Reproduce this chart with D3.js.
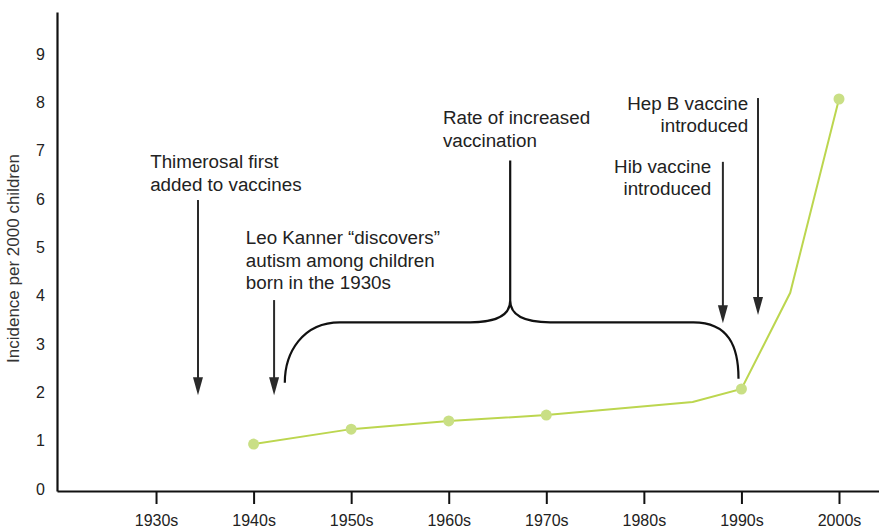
<!DOCTYPE html>
<html>
<head>
<meta charset="utf-8">
<script src="https://cdn.jsdelivr.net/npm/d3@7"></script>
<style>
  html, body { margin: 0; padding: 0; background: #fff; }
  svg { display: block; font-family: "Liberation Sans", Arial, Helvetica, sans-serif; }
</style>
</head>
<body>
<svg id="chart" width="879" height="529"></svg>
<script>
// ---- data ----
const decades = [1930, 1940, 1950, 1960, 1970, 1980, 1990, 2000];
const tickLabels = ["1930s", "1940s", "1950s", "1960s", "1970s", "1980s", "1990s", "2000s"];
const yTicks = [0, 1, 2, 3, 4, 5, 6, 7, 8, 9];
const lineYears = [1940, 1950, 1960, 1970, 1985, 1990, 1995, 2000];
const lineValues = [0.93, 1.24, 1.41, 1.53, 1.80, 2.07, 4.06, 8.07];
const markerYears = [1940, 1950, 1960, 1970, 1990, 2000];
const markerValues = [0.93, 1.24, 1.41, 1.53, 2.07, 8.07];
const yTitle = "Incidence per 2000 children";

// annotations in data units (year, value)
const arrowYears = [1934.3, 1942.1, 1988.1, 1991.7];
const arrowTops = [5.98, 3.91, 6.77, 8.09];
const arrowTips = [1.94, 1.94, 3.43, 3.60];
const noteLines = [
  ["Thimerosal first", "added to vaccines"],
  ["Leo Kanner \u201cdiscovers\u201d", "autism among children", "born in the 1930s"],
  ["Rate of increased", "vaccination"],
  ["Hib vaccine", "introduced"],
  ["Hep B vaccine", "introduced"]
];
const noteYears = [1929.4, 1939.2, 1959.4, 1986.9, 1990.7];
const noteValues = [6.64, 5.07, 7.55, 6.54, 7.85];
const noteAnchors = ["start", "start", "start", "end", "end"];
// brace: start year/end year, base value, shoulder value, peak value, stem top value
const braceStart = 1943.2, braceEnd = 1989.7, braceMid = 1966.3;
const braceBase = 2.2, braceShoulder = 3.45, bracePeak = 3.9, braceStemTop = 6.8;

// ---- scales ----
const svg = d3.select("#chart");
const x = d3.scaleLinear().domain([1919.85, 2004.1]).range([57, 879]);
const y = d3.scaleLinear().domain([-0.04, 9.87]).range([491, 12]);

// x axis
const xAxis = d3.axisBottom(x)
  .tickValues(decades)
  .tickFormat((d, i) => tickLabels[i])
  .tickSizeInner(13).tickSizeOuter(0).tickPadding(11);
const gx = svg.append("g").attr("transform", `translate(0,${y(-0.04)})`).call(xAxis);
gx.select(".domain").attr("stroke", "#111").attr("stroke-width", 2.2);
gx.selectAll(".tick line").attr("stroke", "#111").attr("stroke-width", 2);
gx.selectAll(".tick text").attr("font-size", 16).attr("fill", "#222")
  .attr("font-family", "Liberation Sans, Arial, sans-serif");

// y axis
const yAxis = d3.axisLeft(y).tickValues(yTicks).tickSize(0).tickPadding(12);
const gy = svg.append("g").attr("transform", `translate(${x(1919.85)},0)`).call(yAxis);
gy.select(".domain").attr("stroke", "#111").attr("stroke-width", 2.2);
gy.selectAll(".tick text").attr("font-size", 16).attr("fill", "#222")
  .attr("font-family", "Liberation Sans, Arial, sans-serif");

svg.append("text")
  .attr("transform", `translate(19,${y(4.77)}) rotate(-90)`)
  .attr("text-anchor", "middle")
  .attr("font-size", 17).attr("fill", "#333")
  .text(yTitle);

// ---- line ----
const pts = lineYears.map((yr, i) => [yr, lineValues[i]]);
svg.append("path")
  .datum(pts)
  .attr("fill", "none")
  .attr("stroke", "#bcd64f")
  .attr("stroke-width", 2)
  .attr("d", d3.line().x(d => x(d[0])).y(d => y(d[1])));

svg.selectAll("circle.dot")
  .data(markerYears.map((yr, i) => [yr, markerValues[i]]))
  .join("circle")
  .attr("class", "dot")
  .attr("cx", d => x(d[0])).attr("cy", d => y(d[1]))
  .attr("r", 5.5)
  .attr("fill", "#c9df85");

// ---- arrows ----
arrowYears.forEach((yr, i) => {
  const x0 = x(yr), yTop = y(arrowTops[i]), yTip = y(arrowTips[i]);
  svg.append("line")
    .attr("x1", x0).attr("x2", x0)
    .attr("y1", yTop).attr("y2", yTip - 16)
    .attr("stroke", "#2a2a2a").attr("stroke-width", 2);
  svg.append("path")
    .attr("d", `M${x0 - 5},${yTip - 18} L${x0 + 5},${yTip - 18} L${x0},${yTip} Z`)
    .attr("fill", "#2a2a2a");
});

// ---- brace ----
const bx0 = x(braceStart), bx1 = x(braceEnd), bm = x(braceMid);
const yb = y(braceBase), ys = y(braceShoulder), yp = y(bracePeak), yst = y(braceStemTop);
const bracePath =
  `M${bx0},${yb} C${bx0},${ys + 30} ${bx0 + 18},${ys} ${bx0 + 55},${ys} ` +
  `L${bm - 40},${ys} C${bm - 12},${ys} ${bm},${ys - 8} ${bm},${yp} ` +
  `M${bm},${yp} C${bm},${ys - 8} ${bm + 12},${ys} ${bm + 40},${ys} ` +
  `L${bx1 - 45},${ys} C${bx1 - 10},${ys} ${bx1},${ys + 24} ${bx1},${yb - 4} ` +
  `M${bm},${yp} L${bm},${yst}`;
svg.append("path").attr("d", bracePath)
  .attr("fill", "none").attr("stroke", "#111").attr("stroke-width", 2.2);

// ---- notes ----
noteLines.forEach((lines, i) => {
  const t = svg.append("text")
    .attr("x", x(noteYears[i])).attr("y", y(noteValues[i]))
    .attr("text-anchor", noteAnchors[i])
    .attr("font-size", 18.8).attr("fill", "#222");
  lines.forEach((ln, j) => {
    t.append("tspan").attr("x", x(noteYears[i])).attr("dy", j === 0 ? 0 : 22.5).text(ln);
  });
});
</script>
</body>
</html>
